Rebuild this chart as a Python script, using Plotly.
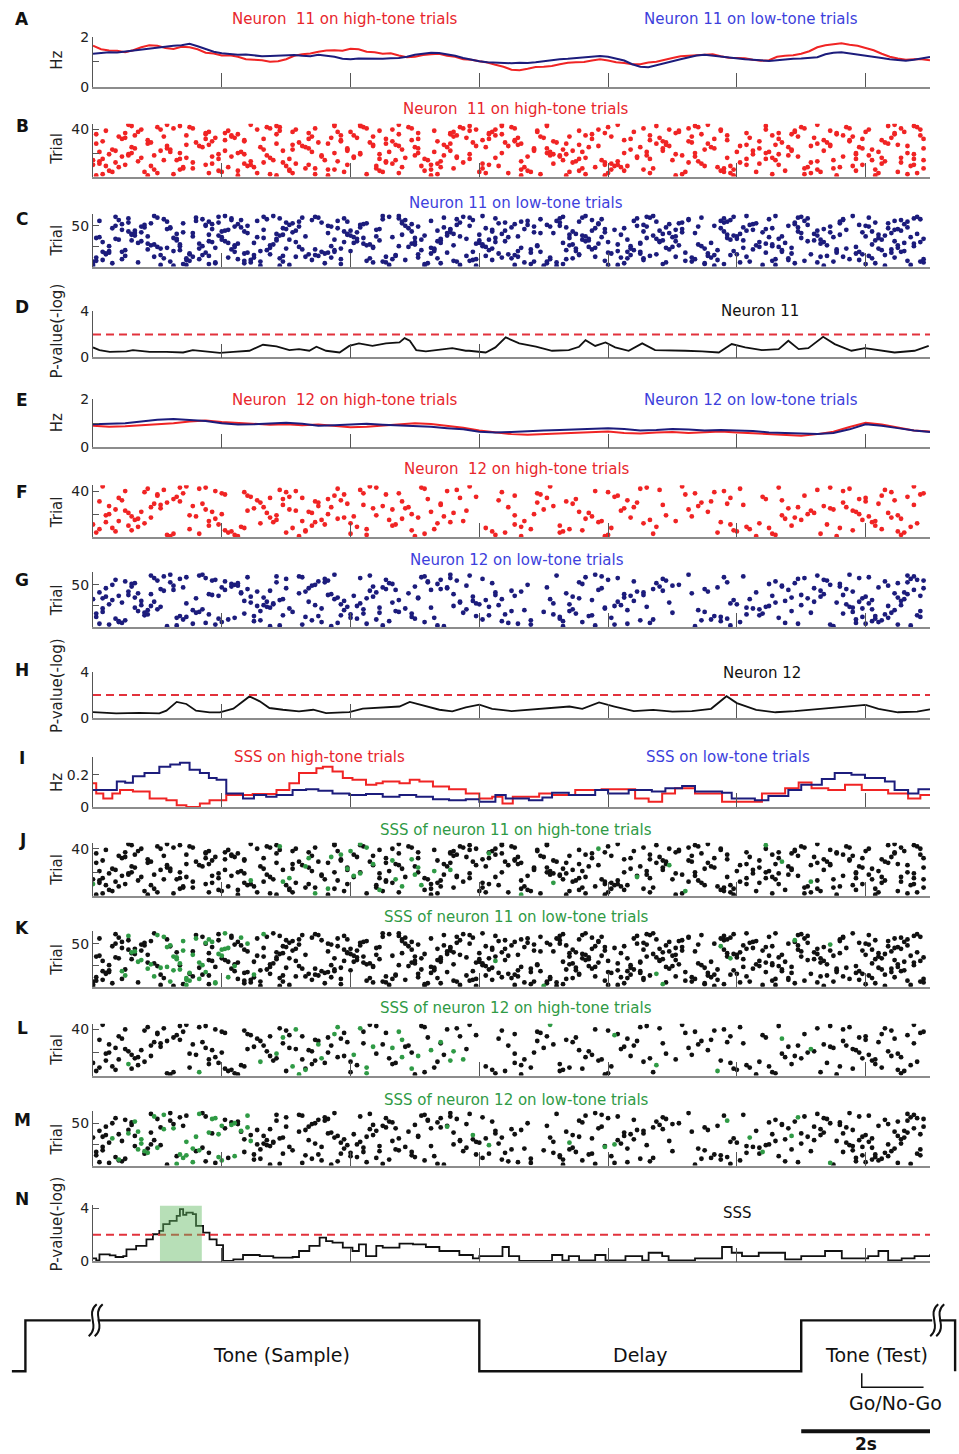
import plotly.graph_objects as go

W, H = 959, 1454
Y_OFF = 7.2  # measured vertical inset of the rendered plot area
FONT = "DejaVu Sans"
X_LEFT_PX, X_RIGHT_PX = 93, 930
T_MAX = 13.0
PX_PER_S = (X_RIGHT_PX - X_LEFT_PX) / T_MAX
X_TICKS = [2, 4, 6, 8, 10, 12]
SPIKE_UNIT = 0.05  # raster times are written in units of 0.05 s
P_THRESHOLD = 2.0

RED, NAVY, BLACK, GREEN = "#f02424", "#1c1c7c", "#111111", "#2f9a45"
TITLE_RED, TITLE_BLUE, TITLE_GREEN = "#e8262c", "#3d3fdc", "#2f9a45"

# ---------------- firing rates, neuron 11 (Hz), sampled every 0.125 s ----------------
RATE11_DT = 0.125
N11_HIGH_HZ = [1.64, 1.5, 1.45, 1.44, 1.38, 1.46, 1.58, 1.66, 1.64, 1.55, 1.51, 1.6, 1.58, 1.5,
               1.36, 1.33, 1.25, 1.26, 1.2, 1.1, 1.08, 1.06, 1.0, 1.02, 1.1, 1.24, 1.3, 1.33,
               1.4, 1.45, 1.46, 1.44, 1.52, 1.5, 1.4, 1.38, 1.32, 1.34, 1.25, 1.18, 1.2, 1.27,
               1.3, 1.32, 1.24, 1.2, 1.1, 1.08, 1.02, 0.97, 0.88, 0.8, 0.68, 0.66, 0.72, 0.79,
               0.8, 0.83, 0.9, 0.96, 0.98, 0.99, 1.05, 1.1, 1.05, 0.98, 0.95, 0.9, 0.9, 0.97,
               1.0, 1.06, 1.15, 1.22, 1.24, 1.23, 1.28, 1.3, 1.22, 1.16, 1.15, 1.14, 1.08, 1.04,
               1.06, 1.2, 1.24, 1.26, 1.32, 1.42, 1.58, 1.66, 1.7, 1.74, 1.68, 1.64, 1.55, 1.46,
               1.32, 1.2, 1.13, 1.08, 1.1, 1.1, 1.06]
N11_LOW_HZ = [1.32, 1.36, 1.38, 1.37, 1.41, 1.46, 1.5, 1.52, 1.58, 1.6, 1.64, 1.66, 1.72, 1.62,
              1.5, 1.4, 1.34, 1.3, 1.28, 1.29, 1.26, 1.22, 1.23, 1.25, 1.26, 1.27, 1.24, 1.22,
              1.28, 1.25, 1.2, 1.12, 1.1, 1.13, 1.12, 1.1, 1.12, 1.14, 1.15, 1.2, 1.28, 1.32,
              1.36, 1.35, 1.3, 1.24, 1.15, 1.08, 1.02, 0.98, 0.96, 0.93, 0.94, 0.96, 0.95, 0.98,
              1.02, 1.07, 1.1, 1.12, 1.15, 1.2, 1.22, 1.23, 1.2, 1.12, 1.05, 0.9, 0.8, 0.78,
              0.85, 0.95, 1.02, 1.1, 1.18, 1.25, 1.28, 1.24, 1.2, 1.17, 1.13, 1.1, 1.08, 1.06,
              1.03, 1.06, 1.1, 1.12, 1.13, 1.15, 1.18, 1.3, 1.36, 1.38, 1.34, 1.3, 1.26, 1.2,
              1.15, 1.1, 1.06, 1.04, 1.08, 1.14, 1.19]

# ---------------- firing rates, neuron 12 (Hz), sampled every 0.25 s ----------------
RATE12_DT = 0.25
N12_HIGH_HZ = [0.9, 0.86, 0.88, 0.92, 0.96, 1.0, 1.08, 1.12, 1.06, 1.02, 0.98, 0.94, 0.96, 0.92,
               0.95, 0.88, 0.84, 0.86, 0.9, 0.96, 1.0, 0.97, 0.9, 0.82, 0.7, 0.62, 0.55, 0.52,
               0.55, 0.58, 0.62, 0.65, 0.66, 0.6, 0.58, 0.62, 0.64, 0.6, 0.63, 0.66, 0.62, 0.58,
               0.55, 0.5, 0.48, 0.55, 0.65, 0.85, 1.02, 0.95, 0.82, 0.7, 0.66]
N12_LOW_HZ = [0.96, 0.98, 1.0, 1.08, 1.15, 1.18, 1.14, 1.1, 1.0, 0.95, 0.96, 1.0, 1.02, 0.98,
              0.9, 0.92, 0.95, 0.98, 0.94, 0.92, 0.9, 0.86, 0.8, 0.75, 0.65, 0.62, 0.64, 0.68,
              0.7, 0.72, 0.74, 0.78, 0.8, 0.76, 0.7, 0.72, 0.76, 0.74, 0.7, 0.72, 0.7, 0.68,
              0.62, 0.6, 0.56, 0.56, 0.6, 0.75, 0.96, 0.9, 0.8, 0.7, 0.64]

# ---------------- p-values (-log), neuron 11 ----------------
P11_T = [0, 0.1, 0.26, 0.52, 0.62, 0.88, 1.14, 1.4, 1.55, 1.76, 1.97, 2.18, 2.43, 2.64, 2.85,
         3.05, 3.2, 3.36, 3.47, 3.62, 3.83, 3.98, 4.13, 4.34, 4.55, 4.76, 4.84, 4.92, 5.02,
         5.17, 5.38, 5.58, 5.79, 5.84, 6.1, 6.25, 6.41, 6.62, 6.88, 7.13, 7.39, 7.55, 7.65,
         7.8, 7.96, 8.11, 8.32, 8.53, 8.73, 8.94, 9.2, 9.46, 9.72, 9.92, 10.13, 10.39, 10.65,
         10.8, 10.96, 11.11, 11.34, 11.52, 11.78, 11.99, 12.2, 12.45, 12.76, 12.98]
P11_VAL = [0.87, 0.64, 0.49, 0.52, 0.64, 0.49, 0.49, 0.43, 0.64, 0.52, 0.4, 0.49, 0.58, 1.1,
           0.96, 0.64, 0.72, 0.58, 0.93, 0.58, 0.43, 1.0, 1.22, 1.0, 1.22, 1.3, 1.68, 1.45,
           0.64, 0.52, 0.7, 0.81, 0.58, 0.58, 0.43, 0.87, 1.74, 1.22, 0.93, 0.58, 0.64, 0.93,
           1.5, 1.0, 1.3, 0.87, 0.58, 1.22, 0.64, 0.64, 0.58, 0.52, 0.43, 1.16, 0.87, 0.64,
           0.72, 1.45, 0.72, 0.81, 1.8, 1.16, 0.58, 0.81, 0.64, 0.43, 0.58, 1.0]

# ---------------- p-values (-log), neuron 12 ----------------
P12_T = [0, 0.36, 0.72, 1.03, 1.14, 1.3, 1.45, 1.6, 1.81, 1.97, 2.18, 2.43, 2.59, 2.74, 2.95,
         3.2, 3.42, 3.62, 3.88, 3.98, 4.19, 4.5, 4.76, 4.92, 5.12, 5.38, 5.58, 5.79, 6.0, 6.2,
         6.5, 6.8, 7.1, 7.4, 7.6, 7.86, 8.1, 8.4, 8.7, 9.0, 9.3, 9.6, 9.84, 10.0, 10.3, 10.6,
         10.9, 11.2, 11.5, 11.8, 12.0, 12.2, 12.5, 12.8, 13.0]
P12_VAL = [0.52, 0.4, 0.45, 0.4, 0.64, 1.4, 1.22, 0.64, 0.49, 0.49, 0.81, 1.88, 1.45, 0.87,
           0.72, 0.58, 0.72, 0.43, 0.49, 0.52, 0.81, 0.93, 1.0, 1.4, 1.1, 0.72, 0.58, 0.93,
           1.16, 0.8, 0.6, 0.72, 0.9, 1.0, 0.8, 1.35, 1.0, 0.6, 0.7, 0.55, 0.6, 0.8, 1.9, 1.3,
           0.7, 0.5, 0.6, 0.75, 0.9, 1.0, 1.15, 0.8, 0.5, 0.55, 0.75]

# ---------------- SSS rates (Hz), step traces ----------------
SSS_LOW_T = [0, 0.37, 0.5, 0.62, 0.8, 1.03, 1.2, 1.35, 1.5, 1.66, 1.8, 1.92, 2.07, 2.33, 2.5,
             2.69, 2.85, 3.1, 3.31, 3.5, 3.72, 3.98, 4.24, 4.5, 4.76, 5.02, 5.28, 5.53, 5.79,
             6.0, 6.25, 6.41, 6.77, 6.98, 7.13, 7.39, 7.8, 8.0, 8.32, 8.68, 8.89, 9.15, 9.35,
             9.77, 9.92, 10.28, 10.49, 10.8, 11.0, 11.32, 11.52, 11.78, 11.99, 12.3, 12.45,
             12.66, 12.82, 13.0]
SSS_LOW_HZ = [0.105, 0.158, 0.15, 0.19, 0.21, 0.25, 0.263, 0.274, 0.23, 0.21, 0.18, 0.168,
              0.084, 0.053, 0.074, 0.063, 0.074, 0.105, 0.109, 0.1, 0.084, 0.074, 0.08, 0.063,
              0.074, 0.063, 0.047, 0.042, 0.047, 0.032, 0.074, 0.053, 0.042, 0.059, 0.088,
              0.074, 0.105, 0.084, 0.105, 0.095, 0.116, 0.13, 0.095, 0.088, 0.053, 0.042,
              0.067, 0.105, 0.137, 0.173, 0.21, 0.2, 0.179, 0.158, 0.105, 0.084, 0.109, 0.105]
SSS_HIGH_T = [0, 0.05, 0.16, 0.3, 0.42, 0.62, 0.88, 1.14, 1.3, 1.45, 1.66, 1.81, 2.07, 2.48,
              2.85, 3.05, 3.2, 3.47, 3.57, 3.72, 3.88, 4.03, 4.24, 4.4, 4.5, 4.76, 4.92, 5.07,
              5.28, 5.53, 5.79, 6.0, 6.2, 6.36, 6.52, 6.93, 7.13, 7.49, 7.9, 8.42, 8.63, 8.84,
              9.04, 9.35, 9.77, 10.08, 10.39, 10.75, 10.96, 11.16, 11.42, 11.68, 11.94, 12.35,
              12.66, 12.85, 13.0]
SSS_HIGH_HZ = [0.147, 0.084, 0.053, 0.084, 0.105, 0.095, 0.053, 0.042, 0.011, 0.0, 0.021,
               0.042, 0.074, 0.08, 0.105, 0.147, 0.21, 0.24, 0.25, 0.22, 0.179, 0.168, 0.137,
               0.147, 0.158, 0.147, 0.168, 0.158, 0.126, 0.109, 0.084, 0.053, 0.063, 0.021,
               0.063, 0.084, 0.074, 0.105, 0.109, 0.053, 0.032, 0.084, 0.116, 0.084, 0.032,
               0.032, 0.084, 0.116, 0.152, 0.116, 0.105, 0.137, 0.105, 0.084, 0.053, 0.074,
               0.074]

# ---------------- SSS p-values (-log), step trace ----------------
PSSS_T = [0, 0.05, 0.1, 0.26, 0.35, 0.47, 0.52, 0.67, 0.83, 0.93, 1.03, 1.09, 1.19, 1.3, 1.35,
          1.4, 1.45, 1.55, 1.6, 1.71, 1.81, 1.92, 2.02, 2.18, 2.33, 2.59, 2.8, 3.1, 3.2, 3.36,
          3.52, 3.62, 3.72, 3.88, 4.03, 4.13, 4.24, 4.4, 4.5, 4.76, 4.97, 5.17, 5.38, 5.69,
          5.9, 6.0, 6.25, 6.36, 6.46, 6.62, 7.13, 7.29, 7.39, 7.55, 7.8, 7.96, 8.27, 8.53,
          8.63, 8.84, 8.94, 9.35, 9.77, 9.92, 10.08, 10.34, 10.75, 11.0, 11.37, 11.63, 12.04,
          12.2, 12.35, 12.56, 12.76, 13.0]
PSSS_VAL = [0.23, 0.08, 0.53, 0.45, 0.33, 0.4, 0.9, 1.16, 1.66, 2.04, 2.29, 2.8, 3.04, 3.42,
            3.92, 3.5, 3.67, 3.55, 2.67, 2.16, 1.66, 1.23, 0.03, 0.15, 0.48, 0.4, 0.28, 0.33,
            0.78, 1.16, 1.79, 1.53, 1.41, 1.03, 0.78, 1.28, 0.4, 1.16, 1.03, 1.33, 1.28, 1.08,
            0.78, 0.48, 0.23, 0.4, 0.4, 1.08, 0.4, 0.03, 0.48, 0.08, 0.4, 0.08, 0.48, 0.08,
            0.4, 0.08, 0.65, 0.4, 0.08, 0.23, 1.08, 0.65, 0.4, 0.65, 0.15, 0.4, 0.78, 0.23,
            0.4, 0.78, 0.08, 0.23, 0.4, 0.53]
SIG_WINDOW = [1.04, 1.69]  # significant SSS window (s)

# ---------------- spike rasters: one string per trial (bottom trial first) --------------
# times in units of 0.05 s; '*' marks spikes that belong to SSS
N11_HIGH_TRIALS = [
    "1 17 45 57 73 105 133* 147 159 181 199 231 243", "3 25 55 69* 85 107 139 153 183 211 221 253",
    "20 36 51 62 95 122 129 160 173 198 223 244 256", "6 16 40 78 90 120 136 148 184* 196 206 226 250",
    "5 39 45 61 89* 103 135 151 165 195 215 237", "19 27 61 73* 75 105 133 161 171 199 225 243",
    "28 31 66 69 88 112 121 152 174 196 221 230 258", "8 28 42 50 96* 108 134 156 164 194 222 232",
    "4 18 48 60 88 102* 126 162 166 190 198 236 254", "0* 10 35 49 67 79 105 123 159 163 203 213 239 255",
    "2 37 47 63 93 107 121 143* 161 189 207 245", "7 31 53 59* 91 115 149 159 185 201 223* 251",
    "2 14 49* 76 91 108 133 150 163 188 225 246", "0 22 26 56 72 94* 104 146 158 180 212 230 242 258",
    "3 27 39 61* 89 103 117 151 173 203 209 237 255", "15 29 55 81 97 113 125 153 169* 197 211 245 251",
    "9 37 43 71 81* 113 135 145 169 187 219 233", "11 19 54 71 100* 109 142 145 172 183 216 241",
    "5 11 39 47 83* 89 117 143 147 181 205 213 237 255", "12 27 45 75 83 101 127 141 165 187 209 237 253",
    "2 24 46 68 92 106* 142 152 172 200 210 244", "7 21 41 59 79 111* 137 149 177 205 217 227",
    "6 24 53 62 79* 96 137 146 167 190 217 242", "13 23 67 79 101* 137 141 177 193 207 239 258",
    "12 34 52 66* 100 110 122 154 170 192 216 238", "23 33 65 87 95 119 129 157 179* 201 223 229 253",
    "29 36 62 87* 94 109 132 151 178 203 212 229 250", "1 17 57 73 91 111 133 147 175 191 225 247",
    "18 32 64 70 86 118 128 144 178 186 214* 228 246", "3 37 47 77 93* 107 131 143 177 185 207 235",
    "17 41 47 77 99* 121 131 165 173 197 227 235 245", "9 35 53 67* 91 101 123 155 167 193 213 239 258",
    "10 38 44 74* 82 116 132 140 176 204 224 248", "8 22 43 68 87 112 139 148 161 186 219 236",
    "13 29 43 77* 81 113 125 153 173 197 211 233 257", "1 35 45 57 95 111 123* 127 155 189 217 231 249",
    "10 35 41 67 101 111 123 159 181 203 213 231 249", "14 36 62 76 80* 112 124 138 168 182 218 240 252",
    "4 42 58 89 106 117 138 151 182 195 218 229", "15 21 51 63 93 119 125 157* 179 195 209 241 257",
    "25 31 55 69 85* 99 115 131 171 185 221 235 251", "20 30 54 58* 84 98 114 130 160 188 220 234 256",
    "12 27 57 75 83 117 127 141 175 187 209* 247 255", "11 23 49 75 83* 95 127 141 163 191 225 249",
]
N11_LOW_TRIALS = [
    "0 25 52 58 103 119 140* 144 193 227 246", "21 29* 61 92 114 131 160 163 208 212 254",
    "0 28 36 77 103 136 146 177* 190 196 240", "6 38* 47 72 104 108 141 165 190 218 243",
    "14 38* 49 87 91 134 144 178 201 225 258", "0 24* 52 59 90 113 137 141 186 204 230 257",
    "1 30* 47 85 112 117 159 184 211 221 253", "3 29* 49 68 97 118 124 171 194 216 238",
    "9 33* 45 77 93 119 142 147 187 212 235 258", "22 29* 58 86 107 130 149 166 171 216 242",
    "1 42* 50 74 101 127 142 164 186 192 249", "19* 31 63 66 91 132 156 181 203 226 233",
    "10* 36 59 70 94 116 122 173 191 228 241", "21 34 50* 69 94 131 151 167 193 198 246",
    "4 30 55 67 101 129 151 175* 200 223 239", "4 30* 47 72 105 126 161 170 191 217 237",
    "5 35* 48 73 110 136 160 184 209 231 248", "3 9* 44 71 75 118 139 166 170 214 238 251",
    "5 25* 52 80 106 132 150 163 199 231 252", "10 27* 54 75 102 123 147 168 194 214 245",
    "17* 43 65 69 106 136 155 179 205 231 248", "21* 33 60 77 106 124 150 167 190 234 244",
    "23* 38 55 87 105 133 156 178 202 217 250", "20 44* 64 87 98 122 154 180 207 213 237",
    "5 27 34* 74 95 121 138 167 189 211 255", "18* 44 55 85 112 138 148 182 206 228 250",
    "19 27* 56 86 100 121 149 163 188 211 242", "17 33* 45 84 99 119 157 170 209 226 255",
    "14* 42 50 81 108 120 146 170 192 215 252", "3 37 63 78 100 125* 160 176 207 227 257",
    "15* 36 41 82 107 128 153 176 181 222 249", "12 26* 57 89 108 120 154 177 202 224 243",
    "8 40 61 75 102 123 152 166 198* 226 245", "7 26* 57 82 108 116 154 175 200 213 258",
    "1 25* 53 84 100 125 148 172 197 220 244", "2 40* 51 81 93 129 158 180 210 230 254",
    "17 31* 66 88 114 132 153 181 200 214 240", "13 39* 58 80 103 110 152 174 199 225 246",
    "12 36 59 79 96 120 148 164 197 232 244", "12* 26 57 79 112 127 150 177 201 224 256",
    "13* 31 48 73 110 139 143 179 187 220 248", "15 28* 62 82 111 137 159 183 208 229 239",
    "11 40* 47 78 99 124 149 171 196 219 242", "13 41* 63 80 107 128 155 176 203 225 251",
    "9 42* 53 88 111 124 162 181 205 234 249", "23* 37 60 89 111 134 159 183 209 227 250",
    "6 24 59 76 98 122 156 165 195* 211 247", "16 24* 46 83 109 130 147 178 202 219 253",
    "15 44 64 74 101 137 142 172 188 229* 241", "7 35 48* 73 97 117 145 169 193 216 240",
    "16 35* 61 83 113 135 141 171 204 222 238", "9 37* 45 84 99 131 157 179 205 218 252",
    "18 28* 62 85 96 126 157 182 206 232 247", "11 39 60 71 114 128 145 183 196 218* 243",
    "23 36* 64 79 96 133 151 175 197 232 253", "2 32* 51 76 105 135 144 168 195 221 249",
    "8 43 46* 68 97 118 155 185 198 233 251", "22* 34 54 90 113 139 158 185 210 233 257",
    "11* 43 58 78 95 125 145 169 196 222 255", "20* 32 65 70 109 117 152 173 189 219 241",
    "7 39 53* 69 92 115 146 172 199 220 256", "19 41* 56 90 95 121 153 174 203 212 236",
]
N12_HIGH_TRIALS = [
    "24 45 64* 100 133 159 206 231", "23 44 85* 125 160 212 251", "25 33* 80 103 174 211 226",
    "1 42 60 128 145 194* 252", "7 43 66* 124 146 200 250", "12 41 66 99* 152 199 236",
    "2 30 85* 106 136 148 204 245", "6 47 62* 122 161 210 232", "14 46 82 133 175* 203 254",
    "11* 36 68 93 145 217 243", "0 39 72 94 131 198 228", "16 52* 80 107 171 207 256",
    "4 56 69 111* 157 195 242", "8 36 65 115* 134 158 181 243", "13 57 71* 92 173 220 239",
    "14 38 76 96* 153 215 251", "18 55 78 101* 167 218 248", "12 32 81* 109 155 186 241",
    "4 30 57* 88 131 178 214 250", "5 40 73 99 137 222 238", "11 54 68 112* 154 224 247",
    "15 37 67 105* 151 191 237", "10 48 63 116 164 223* 236", "7 35 61 93* 140 185 230",
    "21 50 87* 97 165 216 229", "18 53 74 98 129 168 219 234", "5 31 70* 90 143 188 227",
    "21 59 84 108 177 202 255", "19 34 79 108* 149 197 244", "23 52 70 138 169 189 233",
    "2 27 69 96* 147 192 240", "9 51 77 126 166 214* 249", "25 59* 73 104 150 209 238",
    "8 55 65 114 141 198 240", "26 49 61 119 162* 208 253", "20 48 75* 131 163 221 245",
    "20 41 78 91 139 184 257", "28 40 84 95* 138 187 258", "16 47 60 127 160 193 248",
    "10 38 63* 110 156 196 233", "22 58 83* 113 176 225 246", "17 33 76* 103 170 201 235",
    "27 35 88 102 172 213 229", "3 29 86 117 142* 183 255",
]
N12_LOW_TRIALS = [
    "23 55 74 109 146 187 230", "26* 58 90 107 156 198 254", "5 38 65 136 162 229* 250",
    "2 31* 85 132 166 219 240", "9 35 76 129 173 215 237", "8 40* 71 103 152 201 244",
    "8* 50 92 127 146 195 242", "10 52 68 136 170 189 245", "28* 42 88 121 174 192 237",
    "7 39* 82 100 145 197 243", "26 44* 80 106 161 213 247", "1 29* 66 99 145 195 239 257",
    "27* 50 70 119 154 193 243", "16 59 77 123 155 207 256", "17* 36 80 128 143 203 246",
    "1 47 84 99 150 208* 233", "16* 32 89 115 180 223 248", "3 33* 62 95 140 190 236",
    "14* 52 94 130 148 217 257", "17 31* 78 134 166 188 249", "20* 34 84 116 149 207 242",
    "3 61 71 97 159* 205 239", "13 55 89 105 159 203 236", "21 54 79 123* 172 209 235",
    "18 51 82 112 162* 210 247", "15* 53 69 126 164 220 251", "5 56 77 120 148* 200 234",
    "29* 56 83 119 143 198 241", "9 49* 93 114 179 212 231", "19 54 67 114 163 224 238",
    "15* 47 78 118 168 215 251", "6* 58 95 122 155 199 242", "0 59 75 127 142 204* 252",
    "3 32* 85 101 151 222 239", "13 53 76 101 165 217* 250", "4 49 87 118* 149 226 240",
    "8 39* 81 131 167 211 257", "11* 37 73 125 171 220 233", "18 36* 74 112 165 227 253",
    "14* 46 64 98 147 186 249", "2 46* 88 125 171 206 252", "11 51 66 133 169 191 236",
    "22* 55 86 130 177 226", "25* 41 94 105 157 216 255", "21 48* 91 108 174 190 234",
    "4 60 67 110* 158 224 258", "28 40* 90 110 141 194 244", "12 43* 87 100 176 214 232",
    "25 45 68 116 180 214 247", "6 44* 69 135 182 229", "12 43 93 107 152 210 232",
    "13* 45 92 124 175 218 250", "24 57 72 104 151 197* 253", "10 41 70 104 168 212 246",
    "20 37* 73 113 178 228 258", "7 38* 91 108 160 227 256", "27 60 72 121 177 219* 254",
    "19* 35 83 111 163 221 238", "29 48* 65 102 153 196 241", "22* 57 64 103 158 202 255",
    "18 33* 86 117 144 225 253", "24 34 75 111 156 185 235",
]

# ---------------- task timeline (s) ----------------
TL_START, SAMPLE_ON, SAMPLE_OFF, TEST_ON, TL_END = -1.26, -1.05, 6.0, 11.0, 13.39
BREAKS = [-0.02, 13.05]
GO_ON, GO_OFF = 11.94, 12.9
SCALE_BAR = [11.0, 13.0]


def py2paper(py):
    return 1 - (py - Y_OFF) / (H - 2 * Y_OFF)


def decode(rows):
    t_all, y_all, t_sss, y_sss, t_other, y_other = [], [], [], [], [], []
    for trial, row in enumerate(rows, start=1):
        for tok in row.split():
            t = int(tok.rstrip("*")) * SPIKE_UNIT
            t_all.append(t); y_all.append(trial)
            if tok.endswith("*"):
                t_sss.append(t); y_sss.append(trial)
            else:
                t_other.append(t); y_other.append(trial)
    return t_all, y_all, t_sss, y_sss, t_other, y_other


def P(letter, top, bot, yr, tv, tt, ytitle, ytitle_y, letter_y):
    return dict(letter=letter, top=top, bot=bot, yr=yr, tv=tv, tt=tt,
                ytitle=ytitle, ytitle_y=ytitle_y, letter_y=letter_y)


PV = "P-value(-log)"
PANELS = [
    P("A", 36, 86, [0, 2], [0, 1, 2], ["0", "", "2"], "Hz", 60, 18),
    P("B", 123, 176, [0, 45], [20, 40], ["", "40"], "Trial", 148, 125),
    P("C", 213, 266, [0, 65], [25, 50], ["", "50"], "Trial", 240, 218),
    P("D", 311, 357, [0, 4], [0, 4], ["0", "4"], PV, 331, 307),
    P("E", 399, 447, [0, 2], [0, 1, 2], ["0", "", "2"], "Hz", 423, 400),
    P("F", 485, 537, [0, 45], [20, 40], ["", "40"], "Trial", 512, 492),
    P("G", 572, 627, [0, 65], [25, 50], ["", "50"], "Trial", 600, 580),
    P("H", 672, 718, [0, 4], [0, 4], ["0", "4"], PV, 686, 670),
    P("I", 757, 807, [0, 0.31], [0, 0.2], ["0", "0.2"], "Hz", 783, 758),
    P("J", 843, 896, [0, 45], [20, 40], ["", "40"], "Trial", 870, 840),
    P("K", 931, 987, [0, 65], [25, 50], ["", "50"], "Trial", 960, 928),
    P("L", 1024, 1076, [0, 45], [20, 40], ["", "40"], "Trial", 1050, 1028),
    P("M", 1111, 1166, [0, 65], [25, 50], ["", "50"], "Trial", 1140, 1120),
    P("N", 1206, 1262, [0, 4.2], [0, 4], ["0", "4"], PV, 1225, 1200),
]

NBSP = "\u00a0"
TITLES = [  # (text, color, x px, y px)
    ("Neuron" + NBSP + NBSP + "11 on high-tone trials", TITLE_RED, 345, 18),
    ("Neuron 11 on low-tone trials", TITLE_BLUE, 751, 18),
    ("Neuron" + NBSP + NBSP + "11 on high-tone trials", TITLE_RED, 516, 108),
    ("Neuron 11 on low-tone trials", TITLE_BLUE, 516, 202),
    ("Neuron 11", "#111111", 760, 311),
    ("Neuron" + NBSP + NBSP + "12 on high-tone trials", TITLE_RED, 345, 400),
    ("Neuron 12 on low-tone trials", TITLE_BLUE, 751, 400),
    ("Neuron" + NBSP + NBSP + "12 on high-tone trials", TITLE_RED, 517, 469),
    ("Neuron 12 on low-tone trials", TITLE_BLUE, 517, 560),
    ("Neuron 12", "#111111", 762, 673),
    ("SSS on high-tone trials", TITLE_RED, 319, 757),
    ("SSS on low-tone trials", TITLE_BLUE, 728, 757),
    ("SSS of neuron 11 on high-tone trials", TITLE_GREEN, 516, 830),
    ("SSS of neuron 11 on low-tone trials", TITLE_GREEN, 516, 917),
    ("SSS of neuron 12 on high-tone trials", TITLE_GREEN, 516, 1008),
    ("SSS of neuron 12 on low-tone trials", TITLE_GREEN, 516, 1100),
    ("SSS", "#111111", 737, 1214),
]


def suffix(i):
    return "" if i == 1 else str(i)


fig = go.Figure()


def add_line(i, x, y, color, shape="linear", width=2.0):
    n = suffix(i)
    fig.add_trace(go.Scatter(x=x, y=y, mode="lines", line=dict(color=color, width=width, shape=shape),
                             xaxis="x" + n, yaxis="y" + n, hoverinfo="skip"))


def add_dots(i, x, y, color, size=4.8):
    n = suffix(i)
    fig.add_trace(go.Scatter(x=x, y=y, mode="markers", marker=dict(color=color, size=size, line=dict(width=0)),
                             xaxis="x" + n, yaxis="y" + n, hoverinfo="skip"))


n11h = decode(N11_HIGH_TRIALS)
n11l = decode(N11_LOW_TRIALS)
n12h = decode(N12_HIGH_TRIALS)
n12l = decode(N12_LOW_TRIALS)
t11 = [k * RATE11_DT for k in range(len(N11_HIGH_HZ))]
t12 = [k * RATE12_DT for k in range(len(N12_HIGH_HZ))]

# A
add_line(1, t11, N11_HIGH_HZ, RED)
add_line(1, t11, N11_LOW_HZ, NAVY)
# B, C
add_dots(2, n11h[0], n11h[1], RED)
add_dots(3, n11l[0], n11l[1], NAVY)
# D
add_line(4, P11_T, P11_VAL, BLACK, width=1.8)
# E
add_line(5, t12, N12_HIGH_HZ, RED)
add_line(5, t12, N12_LOW_HZ, NAVY)
# F, G
add_dots(6, n12h[0], n12h[1], RED)
add_dots(7, n12l[0], n12l[1], NAVY)
# H
add_line(8, P12_T, P12_VAL, BLACK, width=1.8)
# I
add_line(9, SSS_HIGH_T, SSS_HIGH_HZ, RED, shape="hv")
add_line(9, SSS_LOW_T, SSS_LOW_HZ, NAVY, shape="hv")
# J-M
for idx, d in zip([10, 11, 12, 13], [n11h, n11l, n12h, n12l]):
    add_dots(idx, d[4], d[5], BLACK)
    add_dots(idx, d[2], d[3], GREEN)
# N
add_line(14, PSSS_T, PSSS_VAL, BLACK, shape="hv", width=1.8)

layout = dict(width=W, height=H, margin=dict(l=0, r=0, t=0, b=0), paper_bgcolor="white",
              plot_bgcolor="white", showlegend=False,
              font=dict(family=FONT, size=14, color="#222222"))
shapes, annotations = [], []

for i, p in enumerate(PANELS, start=1):
    n = suffix(i)
    layout["xaxis" + n] = dict(domain=[X_LEFT_PX / W, X_RIGHT_PX / W], range=[0, T_MAX],
                               anchor="y" + n, tickvals=X_TICKS, showticklabels=False,
                               ticks="inside", ticklen=14, tickwidth=1.2, tickcolor="#555555",
                               showline=True, linecolor="#8c8c8c", linewidth=1.5,
                               showgrid=False, zeroline=False, fixedrange=True)
    layout["yaxis" + n] = dict(domain=[py2paper(p["bot"]), py2paper(p["top"])], range=p["yr"],
                               anchor="x" + n, tickvals=p["tv"], ticktext=p["tt"],
                               ticks="inside", ticklen=6, tickwidth=1.2, tickcolor="#555555",
                               showline=True, linecolor="#555555", linewidth=1.2,
                               showgrid=False, zeroline=False, fixedrange=True,
                               tickfont=dict(family=FONT, size=14, color="#222222"))
    annotations.append(dict(text="<b>" + p["letter"] + "</b>", x=22 / W, y=py2paper(p["letter_y"]),
                            xref="paper", yref="paper", showarrow=False, xanchor="center",
                            yanchor="middle", font=dict(family=FONT, size=17, color="#111111")))
    annotations.append(dict(text=p["ytitle"], x=57 / W, y=py2paper(p["ytitle_y"]), xref="paper",
                            yref="paper", showarrow=False, textangle=-90, xanchor="center",
                            yanchor="middle", font=dict(family=FONT, size=15, color="#222222")))

for txt, col, xp, yp in TITLES:
    annotations.append(dict(text=txt, x=xp / W, y=py2paper(yp), xref="paper", yref="paper",
                            showarrow=False, xanchor="center", yanchor="middle",
                            font=dict(family=FONT, size=15, color=col)))

# significance thresholds
for i in (4, 8, 14):
    n = suffix(i)
    shapes.append(dict(type="line", xref="x" + n, yref="y" + n, x0=0, x1=T_MAX,
                       y0=P_THRESHOLD, y1=P_THRESHOLD,
                       line=dict(color="#e2323c", width=2, dash="8px,5px")))
# significant window in N
shapes.append(dict(type="rect", xref="x14", yref="y14", x0=SIG_WINDOW[0], x1=SIG_WINDOW[1],
                   y0=0, y1=4.2, fillcolor="rgba(95,185,95,0.45)", line=dict(width=0),
                   layer="above"))

# ---------------- timeline panel ----------------
TL_TOP_PX, LOW_PX, LEVEL_PX = 1290, 1372, 51.0
TL_BOT_PX = H - Y_OFF
lvl_lo = (LOW_PX - TL_BOT_PX) / LEVEL_PX
lvl_hi = (LOW_PX - TL_TOP_PX) / LEVEL_PX
layout["xaxis15"] = dict(domain=[0, 1], range=[-X_LEFT_PX / PX_PER_S, (W - X_LEFT_PX) / PX_PER_S],
                         anchor="y15", visible=False, fixedrange=True)
layout["yaxis15"] = dict(domain=[0, py2paper(TL_TOP_PX)], range=[lvl_lo, lvl_hi], anchor="x15",
                         visible=False, fixedrange=True)

fig.add_trace(go.Scatter(
    x=[TL_START, SAMPLE_ON, SAMPLE_ON, SAMPLE_OFF, SAMPLE_OFF, TEST_ON, TEST_ON, TL_END, TL_END],
    y=[0, 0, 1, 1, 0, 0, 1, 1, 0], mode="lines", line=dict(color="#111111", width=2.4),
    xaxis="x15", yaxis="y15", hoverinfo="skip", cliponaxis=False))


def px2dt(dx):
    return dx / PX_PER_S


def px2dl(dy):
    return -dy / LEVEL_PX


for b in BREAKS:
    # white gap, then two wavy strokes
    shapes.append(dict(type="rect", xref="x15", yref="y15", x0=b - px2dt(1), x1=b + px2dt(6),
                       y0=1 + px2dl(3), y1=1 + px2dl(-3), fillcolor="white", line=dict(width=0)))
    for off in (0, 6):
        pts = [(5 + off, -16), (-7 + off, -6), (9 + off, 5), (-3 + off, 16)]
        (x0, y0), (x1, y1), (x2, y2), (x3, y3) = [(b + px2dt(dx), 1 + px2dl(dy)) for dx, dy in pts]
        shapes.append(dict(type="path", xref="x15", yref="y15",
                           path=f"M {x0},{y0} C {x1},{y1} {x2},{y2} {x3},{y3}",
                           line=dict(color="#111111", width=2)))

# Go/No-Go bracket and scale bar
shapes.append(dict(type="path", xref="x15", yref="y15",
                   path=f"M {GO_ON},{px2dl(2)} L {GO_ON},{px2dl(16)} L {GO_OFF},{px2dl(16)}",
                   line=dict(color="#111111", width=1.5)))
shapes.append(dict(type="line", xref="x15", yref="y15", x0=SCALE_BAR[0], x1=SCALE_BAR[1],
                   y0=px2dl(60), y1=px2dl(60), line=dict(color="#111111", width=4)))

for txt, t, dy, size, bold in [("Tone (Sample)", (SAMPLE_ON + SAMPLE_OFF) / 2 + 0.45, -16, 19, False),
                               ("Delay", (SAMPLE_OFF + TEST_ON) / 2, -16, 19, False),
                               ("Tone (Test)", 12.17, -16, 19, False),
                               ("Go/No-Go", 12.47, 32, 19, False),
                               ("2s", sum(SCALE_BAR) / 2, 73, 17, True)]:
    annotations.append(dict(text=("<b>%s</b>" % txt) if bold else txt, x=t, y=px2dl(dy),
                            xref="x15", yref="y15", showarrow=False, xanchor="center",
                            yanchor="middle", font=dict(family=FONT, size=size, color="#111111")))

layout["shapes"] = shapes
layout["annotations"] = annotations
fig.update_layout(**layout)
fig.write_html("out.html", config={"displayModeBar": False},
               post_script="document.body.style.margin='0px';document.body.style.overflow='hidden';")
